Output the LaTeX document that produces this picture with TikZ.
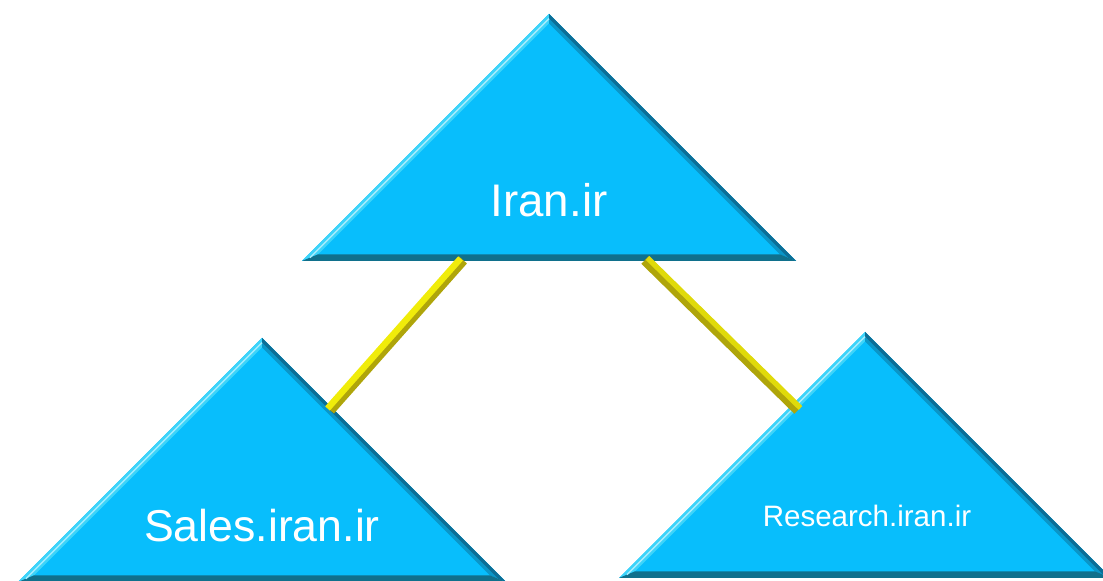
\documentclass[tikz,border=0pt]{standalone}
\usepackage{fontspec}
\setmainfont{Liberation Sans}
\usetikzlibrary{calc}

\definecolor{domfill}{RGB}{8,190,252}
\definecolor{domlight}{RGB}{60,212,250}
\definecolor{domdark}{RGB}{10,150,200}
\definecolor{domedge}{RGB}{12,110,150}
\definecolor{dombase}{RGB}{16,112,140}
\definecolor{linkyellow}{RGB}{240,236,10}
\definecolor{linkolive}{RGB}{175,165,10}

\begin{document}
\begin{tikzpicture}[
	domlabel/.style = {text = white, inner sep = 0pt, anchor = base},
	linkbar/.style = {line width = 3pt, line cap = butt}
	]
	 \useasboundingbox (0, 0) rectangle (11.03, 5.81);
	 \clip (0, 0) rectangle (11.03, 5.81);

	 % triangles: name / apex x / apex y / height
	 \foreach \n/\x/\y/\h in {top/5.49/5.67/2.47, sales/2.62/2.43/2.44, research/8.65/2.49/2.46}
	 {
	 \coordinate (\n A) at (\x, \y);
	 \coordinate (\n L) at (\x - \h, \y - \h);
	 \coordinate (\n R) at (\x + \h, \y - \h);
	 \coordinate (\n C) at (\x, \y - \h + 0.414 * \h);
	 \coordinate (\n a) at ($(\n A)!0.065!(\n C)$);
	 \coordinate (\n l) at ($(\n L)!0.065!(\n C)$);
	 \coordinate (\n r) at ($(\n R)!0.065!(\n C)$);
	 \fill[domfill] (\n A) -- (\n L) -- (\n R) -- cycle;
	 \fill[domlight] (\n L) -- (\n A) -- (\n a) -- (\n l) -- cycle;
	 \fill[domdark] (\n A) -- (\n R) -- (\n r) -- (\n a) -- cycle;
	 \fill[domedge] (\n A) -- (\n R) -- ($(\n R)!0.03!(\n C)$) -- ($(\n A)!0.03!(\n C)$) -- cycle;
	 \fill[dombase] (\n L) -- (\n R) -- (\n r) -- (\n l) -- cycle;
	 \draw[white!55!domlight, thin] ($(\n L)!0.5!(\n l)$) -- ($(\n A)!0.5!(\n a)$);
	 }

	 \node[domlabel, font = \fontsize{13}{15}\selectfont] (iran) at (5.49, 3.64) {Iran.ir};
	 \node[domlabel, font = \fontsize{12.7}{15}\selectfont] (sales) at (2.62, 0.39) {Sales.iran.ir};
	 \node[domlabel, font = \fontsize{8.4}{10}\selectfont] (research) at (8.67, 0.54) {Research.iran.ir};

	 % links between the domains
	 \coordinate (link1top) at (4.63, 3.21);
	 \coordinate (link1bot) at (3.30, 1.71);
	 \coordinate (link2top) at (6.45, 3.21);
	 \coordinate (link2bot) at (7.98, 1.71);
	 \draw[linkbar, linkolive] (link1top) -- (link1bot);
	 \draw[linkbar, linkyellow, line width = 1.8pt] ($(link1top) + (-0.025, 0.015)$) -- ($(link1bot) + (-0.025, 0.015)$);
	 \draw[linkbar, linkolive] (link2top) -- (link2bot);
	 \draw[linkbar, linkyellow!75!linkolive, line width = 1.5pt] ($(link2top) + (0.025, 0.02)$) -- ($(link2bot) + (0.025, 0.02)$);
\end{tikzpicture}
\end{document}
